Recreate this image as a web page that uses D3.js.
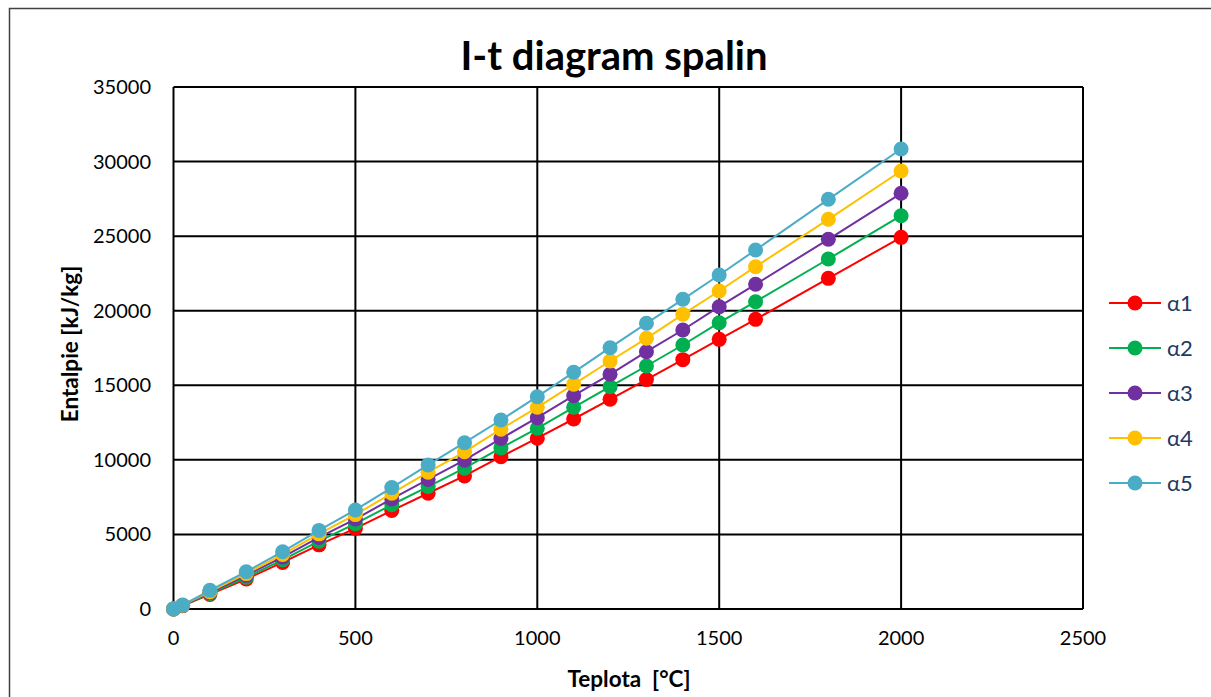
<!DOCTYPE html>
<html>
<head>
<meta charset="utf-8">
<script src="https://cdn.jsdelivr.net/npm/d3@7"></script>
<style>
  body { margin: 0; background: #fff; }
  svg { display: block; font-family: Lato, "Open Sans", sans-serif; }
</style>
</head>
<body>
<svg id="chart" width="1211" height="697"></svg>
<script>
// teplota [°C]
const teploty = [0, 25, 100, 200, 300, 400, 500, 600, 700, 800, 900, 1000, 1100, 1200, 1300, 1400, 1500, 1600, 1800, 2000];

// entalpie [kJ/kg] pro jednotlive alfa
const alfa1 = [0, 215, 980, 2010, 3120, 4300, 5400, 6600, 7760, 8920, 10210, 11450, 12740, 14060, 15380, 16720, 18080, 19420, 22170, 24920];
const alfa2 = [0, 228, 1040, 2130, 3300, 4550, 5720, 6990, 8210, 9440, 10800, 12115, 13524, 14906, 16293, 17701, 19197, 20604, 23468, 26371];
const alfa3 = [0, 241, 1100, 2255, 3480, 4800, 6030, 7380, 8690, 9980, 11430, 12827, 14302, 15736, 17253, 18707, 20270, 21770, 24789, 27872];
const alfa4 = [0, 254, 1160, 2375, 3660, 5040, 6330, 7760, 9170, 10540, 12060, 13524, 15066, 16628, 18150, 19760, 21322, 22952, 26130, 29368];
const alfa5 = [0, 267, 1250, 2500, 3842, 5270, 6640, 8140, 9660, 11150, 12672, 14235, 15870, 17520, 19155, 20765, 22395, 24070, 27470, 30843];

const seriesNames = ["α1", "α2", "α3", "α4", "α5"];
const seriesColors = ["#FF0000", "#00B050", "#7030A0", "#FFC000", "#4BACC6"];
const xTicks = [0, 500, 1000, 1500, 2000, 2500];
const yTicks = [0, 5000, 10000, 15000, 20000, 25000, 30000, 35000];

const series = [alfa1, alfa2, alfa3, alfa4, alfa5].map((vals, i) => ({
    name: seriesNames[i],
    color: seriesColors[i],
    points: vals.map((v, j) => ({ t: teploty[j], i: v }))
}));

const svg = d3.select("#chart");

// vnejsi ramecek
svg.append("rect")
    .attr("x", 9.5).attr("y", 8.5)
    .attr("width", 1215).attr("height", 700)
    .attr("fill", "none").attr("stroke", "#404040").attr("stroke-width", 1.5);

const plot = { left: 173.5, right: 1083, top: 87, bottom: 609 };

const x = d3.scaleLinear().domain([0, 2500]).range([plot.left, plot.right]);
const y = d3.scaleLinear().domain([0, 35000]).range([plot.bottom, plot.top]);

// mrizka
svg.append("g").selectAll("line")
    .data(yTicks)
    .join("line")
    .attr("x1", plot.left).attr("x2", plot.right)
    .attr("y1", d => y(d)).attr("y2", d => y(d))
    .attr("stroke", "#000").attr("stroke-width", 2);

svg.append("g").selectAll("line")
    .data(xTicks)
    .join("line")
    .attr("y1", plot.top).attr("y2", plot.bottom)
    .attr("x1", d => x(d)).attr("x2", d => x(d))
    .attr("stroke", "#000").attr("stroke-width", 2);

// popisky os
svg.append("g").selectAll("text")
    .data(yTicks)
    .join("text")
    .attr("x", 151)
    .attr("y", d => y(d) + 7)
    .attr("text-anchor", "end")
    .attr("font-size", 20)
    .attr("fill", "#000")
    .text(d => d);

svg.append("g").selectAll("text")
    .data(xTicks)
    .join("text")
    .attr("x", d => x(d))
    .attr("y", 645)
    .attr("text-anchor", "middle")
    .attr("font-size", 20)
    .attr("fill", "#000")
    .text(d => d);

// titulky
svg.append("text")
    .attr("x", 614).attr("y", 70)
    .attr("text-anchor", "middle")
    .attr("font-size", 40).attr("font-weight", "bold")
    .text("I-t diagram spalin");

svg.append("text")
    .attr("x", 629).attr("y", 687)
    .attr("text-anchor", "middle")
    .attr("font-size", 22.5).attr("font-weight", "bold")
    .attr("xml:space", "preserve")
    .style("white-space", "pre")
    .text("Teplota  [°C]");

svg.append("text")
    .attr("transform", "translate(78,344) rotate(-90)")
    .attr("text-anchor", "middle")
    .attr("font-size", 22.5).attr("font-weight", "bold")
    .text("Entalpie [kJ/kg]");

// krivky
const line = d3.line().x(d => x(d.t)).y(d => y(d.i));

const groups = svg.append("g").selectAll("g")
    .data(series)
    .join("g");

groups.append("path")
    .attr("d", d => line(d.points))
    .attr("fill", "none")
    .attr("stroke", d => d.color)
    .attr("stroke-width", 2);

groups.selectAll("circle")
    .data(d => d.points.map(p => ({ ...p, color: d.color })))
    .join("circle")
    .attr("cx", d => x(d.t))
    .attr("cy", d => y(d.i))
    .attr("r", 7.5)
    .attr("fill", d => d.color);

// legenda
const legend = svg.append("g").selectAll("g")
    .data(series)
    .join("g")
    .attr("transform", (d, i) => `translate(1109, ${303 + i * 45})`);

legend.append("line")
    .attr("x1", 0).attr("x2", 52)
    .attr("stroke", d => d.color).attr("stroke-width", 2);

legend.append("circle")
    .attr("cx", 26).attr("r", 7.5)
    .attr("fill", d => d.color);

legend.append("text")
    .attr("x", 58).attr("y", 8)
    .attr("font-size", 22)
    .attr("fill", "#1F3864")
    .text(d => d.name);
</script>
</body>
</html>
